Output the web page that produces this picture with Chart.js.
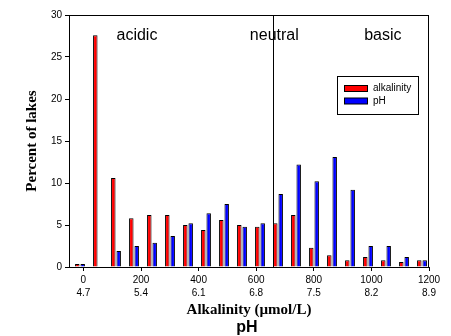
<!DOCTYPE html>
<html>
<head>
<meta charset="utf-8">
<script src="https://cdn.jsdelivr.net/npm/chart.js@4/dist/chart.umd.min.js"></script>
<style>
  body { margin: 0; background: #fff; }
  canvas { display: block; }
</style>
</head>
<body>
<canvas id="lakesChart" width="451" height="336"></canvas>
<script>
// percent of lakes in each bin
const alkalinityValues = [0.35, 27.6, 10.6, 5.8, 6.2, 6.2, 5.0, 4.4, 5.6, 5.0, 4.8, 5.2, 6.2, 2.3, 1.4, 0.8, 1.2, 0.8, 0.6, 0.8];
const phValues = [0.35, 0, 1.9, 2.5, 2.9, 3.7, 5.2, 6.4, 7.5, 4.8, 5.2, 8.7, 12.2, 10.2, 13.1, 9.2, 2.5, 2.5, 1.2, 0.8];

// bottom axis: alkalinity ticks with the matching pH underneath
const alkTicks = [0, 200, 400, 600, 800, 1000, 1200];
const phTicks = ['4.7', '5.4', '6.1', '6.8', '7.5', '8.2', '8.9'];

const regionNames = ['acidic', 'neutral', 'basic'];
const neutralPH = 7.0;

const colors = {
  red: 'rgb(255, 0, 0)',
  blue: 'rgb(0, 0, 255)',
  line: 'rgb(0, 0, 0)',
};

const sans = "'Liberation Sans', Arial, sans-serif";
const serif = "'Liberation Serif', 'Times New Roman', serif";

// pH scale runs 4.7 -> 8.9 across 0 -> 1200 umol/L
const phToAlk = (ph) => (ph - 4.7) / (4.2 / 1200);

const toPoints = (values) => values.map((v, i) => ({ x: i, y: v }));

const extras = {
  id: 'extras',
  afterDraw(chart) {
    const { ctx, chartArea } = chart;
    const alk = chart.scales.alk;
    ctx.save();

    // frame
    ctx.strokeStyle = colors.line;
    ctx.lineWidth = 1;
    ctx.strokeRect(chartArea.left + 0.5, chartArea.top + 0.5,
      chartArea.right - chartArea.left - 1, chartArea.bottom - chartArea.top);

    // neutral divider
    const nx = Math.round(alk.getPixelForValue(phToAlk(neutralPH))) + 0.5;
    ctx.beginPath();
    ctx.moveTo(nx, chartArea.top);
    ctx.lineTo(nx, chartArea.bottom);
    ctx.stroke();

    // region names
    ctx.fillStyle = '#000';
    ctx.font = '16px ' + sans;
    ctx.textBaseline = 'alphabetic';
    ctx.textAlign = 'left';
    const regionX = [115, 578, 975];
    regionNames.forEach((name, i) => {
      ctx.fillText(name, alk.getPixelForValue(regionX[i]), chartArea.top + 24.5);
    });

    // legend
    const lx = chartArea.right - 91.5;
    const ly = chartArea.top + 61.5;
    ctx.fillStyle = '#fff';
    ctx.fillRect(lx, ly, 81, 38);
    ctx.strokeRect(lx, ly, 81, 38);
    ctx.font = '10px ' + sans;
    ctx.textBaseline = 'middle';
    chart.data.datasets.forEach((ds, i) => {
      const y = ly + 9 + i * 12.5;
      ctx.fillStyle = ds.backgroundColor;
      ctx.fillRect(lx + 7, y, 23, 6);
      ctx.strokeRect(lx + 7, y, 23, 6);
      ctx.fillStyle = '#000';
      ctx.fillText(ds.label, lx + 35.5, y + 3);
    });

    // second line of the x title
    ctx.font = 'bold 16px ' + sans;
    ctx.textAlign = 'center';
    ctx.fillText('pH', 247, 328);

    ctx.restore();
  },
};

const ctx = document.getElementById('lakesChart').getContext('2d');

new Chart(ctx, {
  type: 'bar',
  data: {
    datasets: [
      {
        label: 'alkalinity',
        data: toPoints(alkalinityValues),
        backgroundColor: colors.red,
        borderColor: colors.line,
        borderWidth: 1,
        xAxisID: 'bin',
      },
      {
        label: 'pH',
        data: toPoints(phValues),
        backgroundColor: colors.blue,
        borderColor: colors.line,
        borderWidth: 1,
        xAxisID: 'bin',
      },
    ],
  },
  options: {
    responsive: false,
    animation: false,
    categoryPercentage: 0.6,
    barPercentage: 0.83,
    layout: { padding: { left: 0, top: 15, right: 22, bottom: 0 } },
    plugins: {
      legend: { display: false },
      tooltip: { enabled: false },
    },
    scales: {
      bin: {
        type: 'linear',
        display: false,
        offset: false,
        grid: { offset: false },
        min: -0.611,
        max: 19.389,
      },
      alk: {
        type: 'linear',
        position: 'bottom',
        offset: false,
        min: -50,
        max: 1200,
        afterBuildTicks: (scale) => {
          scale.ticks = alkTicks.map((v) => ({ value: v }));
        },
        afterFit: (scale) => { scale.height = 69; },
        grid: {
          offset: false,
          drawOnChartArea: false,
          tickLength: 4,
          tickColor: colors.line,
        },
        border: { color: colors.line },
        ticks: {
          color: '#000',
          padding: 3,
          maxRotation: 0,
          autoSkip: false,
          font: { family: sans, size: 10, lineHeight: 1.3 },
          callback: (value, i) => [String(value), phTicks[i]],
        },
        title: {
          display: true,
          text: 'Alkalinity (\u00b5mol/L)',
          color: '#000',
          font: { family: serif, size: 15, weight: 'bold' },
          padding: { top: 0, bottom: 17 },
        },
      },
      y: {
        min: 0,
        max: 30,
        afterFit: (scale) => { scale.width = 69; },
        grid: {
          drawOnChartArea: false,
          tickLength: 4,
          tickColor: colors.line,
        },
        border: { color: colors.line },
        ticks: {
          stepSize: 5,
          color: '#000',
          padding: 3,
          font: { family: sans, size: 10 },
        },
        title: {
          display: true,
          text: 'Percent of lakes',
          color: '#000',
          font: { family: serif, size: 15, weight: 'bold' },
          padding: { top: 23, bottom: 0 },
        },
      },
    },
  },
  plugins: [extras],
});
</script>
</body>
</html>
